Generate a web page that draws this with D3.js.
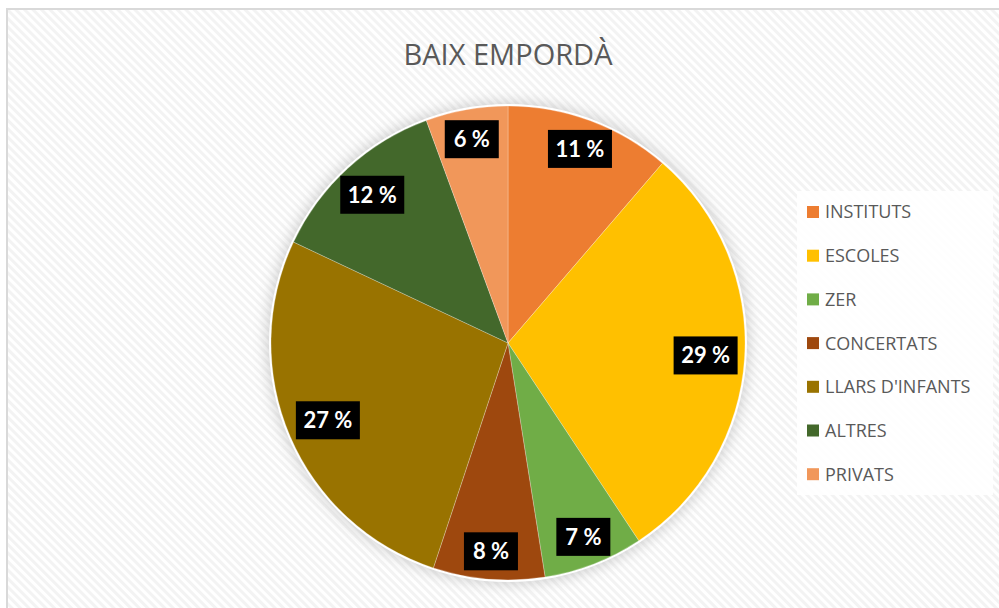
<!DOCTYPE html>
<html>
<head>
<meta charset="utf-8">
<script src="https://cdn.jsdelivr.net/npm/d3@7"></script>
<style>
  body { margin: 0; background: #fff; }
  svg { display: block; }
</style>
</head>
<body>
<div id="chart"></div>
<script>
// data
var categories = ["INSTITUTS", "ESCOLES", "ZER", "CONCERTATS", "LLARS D'INFANTS", "ALTRES", "PRIVATS"];
var values = [11.3, 29.4, 6.8, 7.6, 26.9, 12.4, 5.6];
var labels = ["11 %", "29 %", "7 %", "8 %", "27 %", "12 %", "6 %"];
var colors = ["#ED7D31", "#FFC000", "#70AD47", "#9E480E", "#997300", "#43682B", "#F1975A"];

var W = 999, H = 608;
var cx = 508, cy = 343, R = 237;

var svg = d3.select("#chart").append("svg")
    .attr("width", W)
    .attr("height", H);

var defs = svg.append("defs");

// diagonal stripe background
var pat = defs.append("pattern")
    .attr("id", "stripes")
    .attr("width", 6)
    .attr("height", 6)
    .attr("patternUnits", "userSpaceOnUse")
    .attr("patternTransform", "rotate(45)");
pat.append("rect").attr("width", 6).attr("height", 6).attr("fill", "#ffffff");
pat.append("rect").attr("width", 6).attr("height", 3).attr("fill", "#f3f3f3");

var shadow = defs.append("filter")
    .attr("id", "shadow")
    .attr("x", "-20%").attr("y", "-20%")
    .attr("width", "140%").attr("height", "140%");
shadow.append("feGaussianBlur").attr("stdDeviation", 7);

// chart area + frame
svg.append("rect")
    .attr("x", 7).attr("y", 9)
    .attr("width", W).attr("height", H)
    .attr("fill", "url(#stripes)")
    .attr("stroke", "#d9d9d9")
    .attr("stroke-width", 2);

// title
svg.append("text")
    .attr("x", cx)
    .attr("y", 65)
    .attr("text-anchor", "middle")
    .style("font-family", "'Open Sans', 'Noto Sans', sans-serif")
    .style("font-size", "29px")
    .style("fill", "#595959")
    .text("BAIX EMPORDÀ");

var pie = d3.pie().sort(null).value(function(d) { return d; });
var arcs = pie(values);
var arc = d3.arc().innerRadius(0).outerRadius(R);

var g = svg.append("g").attr("transform", "translate(" + cx + "," + cy + ")");

// soft shadow round the pie
g.append("circle")
    .attr("r", R + 4)
    .attr("fill", "#9a9a9a")
    .attr("opacity", 0.45)
    .attr("filter", "url(#shadow)");
g.append("circle")
    .attr("r", R + 2)
    .attr("fill", "#ffffff");

g.selectAll("path.slice")
    .data(arcs)
    .enter().append("path")
    .attr("class", "slice")
    .attr("d", arc)
    .attr("fill", function(d, i) { return colors[i]; })
    .attr("stroke", "rgba(255,255,255,0.25)")
    .attr("stroke-width", 1);

// data labels: black box, white bold text, near the outer edge
var labelR = [207, 198, 208, 209, 196, 201, 207];
var lab = g.selectAll("g.lab")
    .data(arcs)
    .enter().append("g")
    .attr("class", "lab")
    .attr("transform", function(d, i) {
      var a = (d.startAngle + d.endAngle) / 2;
      var r = labelR[i];
      return "translate(" + (Math.sin(a) * r) + "," + (-Math.cos(a) * r) + ")";
    });

lab.append("rect")
    .attr("x", function(d, i) { return labels[i].length > 3 ? -32 : -27; })
    .attr("width", function(d, i) { return labels[i].length > 3 ? 64 : 54; })
    .attr("y", -19)
    .attr("height", 38)
    .attr("fill", "#000");

lab.append("text")
    .attr("text-anchor", "middle")
    .attr("dy", "0.36em")
    .style("font-family", "Lato, 'Open Sans', sans-serif")
    .style("font-weight", "bold")
    .style("font-size", "22px")
    .style("fill", "#fff")
    .text(function(d, i) { return labels[i]; });

// legend
var legend = svg.append("g");
legend.append("rect")
    .attr("x", 797).attr("y", 191)
    .attr("width", 196).attr("height", 304)
    .attr("fill", "#ffffff")
    .attr("opacity", 0.85);

var item = legend.selectAll("g.item")
    .data(categories)
    .enter().append("g")
    .attr("class", "item")
    .attr("transform", function(d, i) { return "translate(807," + (212 + i * 43.7) + ")"; });

item.append("rect")
    .attr("x", 0).attr("y", -6)
    .attr("width", 12).attr("height", 12)
    .attr("fill", function(d, i) { return colors[i]; });

item.append("text")
    .attr("x", 18)
    .attr("dy", "0.36em")
    .style("font-family", "'Open Sans', 'Noto Sans', sans-serif")
    .style("font-size", "18px")
    .style("fill", "#595959")
    .text(function(d) { return d; });
</script>
</body>
</html>
